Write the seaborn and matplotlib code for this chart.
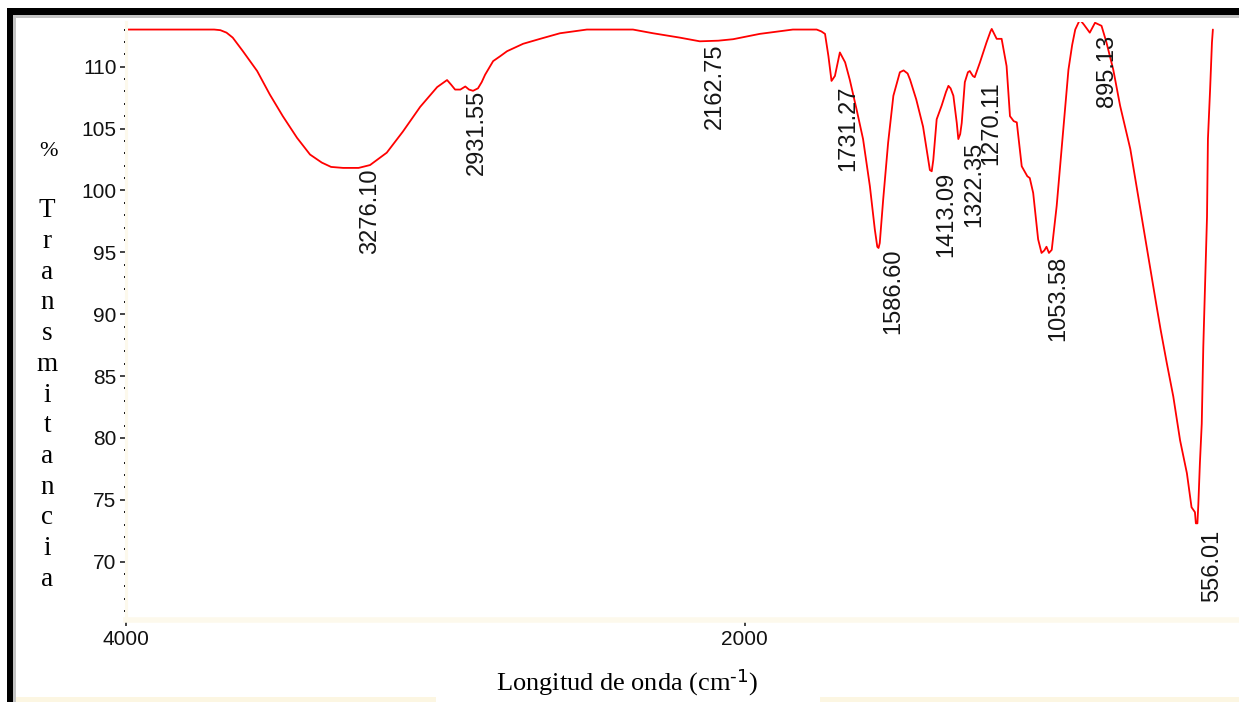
import numpy as np
import pandas as pd
import matplotlib
matplotlib.use("Agg")
import matplotlib.pyplot as plt
import seaborn as sns
from matplotlib.patches import Rectangle
from matplotlib.ticker import MultipleLocator, FixedLocator

# ---------------- data ----------------
wavenumber = [
    4000, 3715, 3695, 3675, 3655, 3622, 3576, 3535, 3493, 3447, 3405, 3367, 3337,
    3298, 3248, 3211, 3157, 3105, 3049, 2994, 2962, 2949, 2936, 2919, 2903, 2891,
    2878, 2862, 2850, 2839, 2813, 2790, 2768, 2716, 2661, 2597, 2510, 2361, 2296,
    2210, 2145, 2085, 2037, 1951, 1844, 1767, 1752, 1740, 1729, 1719, 1708, 1692,
    1675, 1660, 1638, 1617, 1595, 1579, 1571, 1567, 1563, 1552, 1536, 1519, 1498,
    1486, 1473, 1465, 1445, 1423, 1409, 1401, 1395, 1390, 1379, 1363, 1349, 1341,
    1334, 1325, 1314, 1309, 1303, 1298, 1288, 1278, 1272, 1262, 1256, 1239, 1218,
    1205, 1201, 1193, 1185, 1169, 1153, 1142, 1130, 1120, 1104, 1086, 1078, 1067,
    1051, 1040, 1031, 1024, 1016, 1007, 991, 969, 953, 941, 931, 916, 903, 884,
    867, 846, 830, 819, 808, 786, 753, 733, 700, 668, 655, 635, 614, 592, 570, 555,
    544, 541, 536, 533, 528, 522, 517, 512, 505, 502, 495, 489, 486,
]
transmittance = [
    113.0, 113.0, 112.95, 112.75, 112.35, 111.25, 109.65, 107.75, 106.0, 104.25,
    102.9, 102.25, 101.9, 101.82, 101.82, 102.05, 103.05, 104.75, 106.75, 108.35,
    108.92, 108.55, 108.15, 108.15, 108.4, 108.15, 108.05, 108.25, 108.75, 109.35,
    110.45, 110.85, 111.25, 111.85, 112.25, 112.7, 113.0, 113.0, 112.7, 112.35,
    112.05, 112.1, 112.22, 112.65, 113.0, 113.0, 112.85, 112.65, 110.85, 108.85,
    109.25, 111.15, 110.35, 108.95, 106.55, 104.15, 100.35, 96.85, 95.45, 95.35,
    95.75, 99.25, 103.85, 107.65, 109.55, 109.7, 109.45, 108.95, 107.35, 105.15,
    102.95, 101.65, 101.55, 102.45, 105.75, 106.85, 107.95, 108.45, 108.25, 107.65,
    105.45, 104.15, 104.55, 105.45, 108.75, 109.55, 109.65, 109.25, 109.15, 110.35,
    111.95, 112.85, 113.05, 112.65, 112.25, 112.25, 110.05, 106.0, 105.6, 105.5,
    101.95, 101.15, 101.0, 99.8, 96.05, 94.95, 95.15, 95.45, 94.95, 95.2, 98.75,
    105.15, 109.75, 111.75, 113.0, 113.8, 113.4, 112.75, 113.55, 113.3, 111.95,
    110.85, 109.75, 106.85, 103.35, 100.35, 95.45, 90.65, 88.75, 86.05, 83.35,
    79.8, 77.15, 74.4, 74.0, 73.1, 73.1, 74.65, 77.95, 81.15, 87.35, 91.75, 97.85,
    104.15, 108.15, 111.95, 113.0,
]
peak_wavenumbers = [3276.10, 2931.55, 2162.75, 1731.27, 1586.60, 1413.09,
                    1322.35, 1270.11, 1053.58, 895.13, 556.01]
peak_transmittance = [101.8, 108.1, 111.9, 108.5, 95.3, 101.5, 103.9, 108.8,
                      94.75, 112.6, 72.6]
peak_labels = ["3276.10", "2931.55", "2162.75", "1731.27", "1586.60", "1413.09",
               "1322.35", "1270.11", "1053.58", "895.13", "556.01"]
x_ticks = [4000, 2000]
x_tick_labels = ["4000", "2000"]
y_ticks = [70, 75, 80, 85, 90, 95, 100, 105, 110]
y_tick_labels = ["70", "75", "80", "85", "90", "95", "100", "105", "110"]
x_label = r"Longitud de onda (cm$^{\text{-1}}$)"
y_label_top = "%"
y_label_word = "Transmitancia"

# ---------------- style ----------------
sns.set_theme(style="white")
plt.rcParams["font.family"] = ["Liberation Sans", "DejaVu Sans"]
plt.rcParams["mathtext.default"] = "regular"

W, H = 1239, 702
fig = plt.figure(figsize=(W / 100, H / 100), dpi=100)
fig.patch.set_facecolor("white")

ax = fig.add_axes([126 / W, 1 - 620 / H, 1113 / W, 598 / H])
ax.set_facecolor("white")

df = pd.DataFrame({"wn": wavenumber, "T": transmittance})
sns.lineplot(data=df, x="wn", y="T", sort=False, estimator=None,
             color="#ff0000", linewidth=1.3, ax=ax)

ax.set_xlim(4000, 4000 - 1113 / 0.3093)
ax.set_ylim(65.29, 113.61)
ax.set_xlabel("")
ax.set_ylabel("")

ax.xaxis.set_major_locator(FixedLocator(x_ticks))
ax.set_xticklabels(x_tick_labels)
ax.xaxis.set_minor_locator(MultipleLocator(500))
ax.yaxis.set_major_locator(FixedLocator(y_ticks))
ax.set_yticklabels(y_tick_labels)
ax.yaxis.set_minor_locator(MultipleLocator(1))

ax.tick_params(axis="both", which="both", bottom=True, left=True,
               top=False, right=False)
ax.tick_params(axis="both", which="major", direction="out", length=4.3,
               width=1.1, color="#111111", labelsize=15, labelcolor="#111111")
ax.tick_params(axis="y", which="major", pad=2.5)
ax.tick_params(axis="x", which="major", pad=3)
ax.tick_params(axis="both", which="minor", direction="out", length=1.6,
               width=1.4, color="#111111")

for side in ["top", "right"]:
    ax.spines[side].set_visible(False)
ax.spines["left"].set_color("#fdf9ec")
ax.spines["left"].set_linewidth(2.2)
ax.spines["bottom"].set_color("#fdf9ec")
ax.spines["bottom"].set_linewidth(4)

# peak annotations
for wn, t, lbl in zip(peak_wavenumbers, peak_transmittance, peak_labels):
    ax.annotate(lbl, xy=(wn, t), xytext=(9.5, 0), textcoords="offset pixels",
                rotation=90, ha="left", va="top", fontsize=17,
                color="#151515")

# axis titles (serif)
serif = ["Liberation Serif", "DejaVu Serif"]
fig.text(627.5 / W, 1 - 691 / H, x_label, ha="center", va="baseline",
         fontsize=19, family=serif, color="black")
fig.text(48 / W, 1 - 156 / H, y_label_top, ha="center", va="baseline",
         fontsize=16, family=serif, color="black")
for i, ch in enumerate(y_label_word):
    fig.text(47 / W, 1 - (217 + 30.75 * i) / H, ch, ha="center",
             va="baseline", fontsize=19.5, family=serif, color="black")

# window frame
tf = fig.transFigure
fig.add_artist(Rectangle((7 / W, 0), 6 / W, (H - 8) / H, transform=tf,
                         facecolor="black", edgecolor="none", zorder=10))
fig.add_artist(Rectangle((7 / W, 1 - 15 / H), (W - 7) / W, 7 / H, transform=tf,
                         facecolor="black", edgecolor="none", zorder=10))
fig.add_artist(Rectangle((13 / W, 0), 3 / W, (H - 15) / H, transform=tf,
                         facecolor="#c4c4c4", edgecolor="none", zorder=9))
fig.add_artist(Rectangle((13 / W, 1 - 18 / H), (W - 13) / W, 3 / H, transform=tf,
                         facecolor="#c4c4c4", edgecolor="none", zorder=9))
fig.add_artist(Rectangle((16 / W, 0), (436 - 16) / W, 5 / H, transform=tf,
                         facecolor="#fcf6e2", edgecolor="none", zorder=8))
fig.add_artist(Rectangle((820 / W, 0), (W - 820) / W, 5 / H, transform=tf,
                         facecolor="#fcf6e2", edgecolor="none", zorder=8))

fig.savefig("out.png", dpi=100, facecolor="white")
